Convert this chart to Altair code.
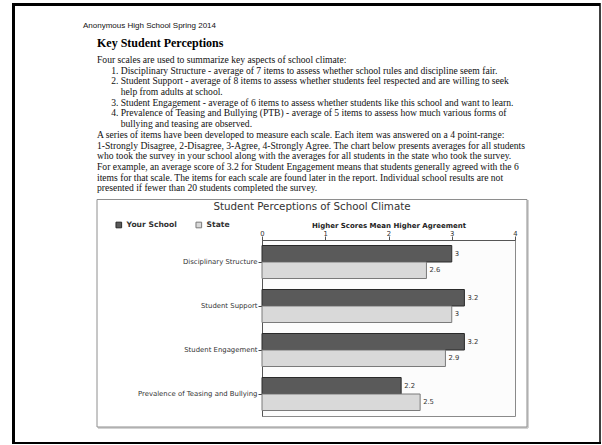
import altair as alt
import pandas as pd

# ---- survey results ----
categories = [
    "Disciplinary Structure",
    "Student Support",
    "Student Engagement",
    "Prevalence of Teasing and Bullying",
]
series = ["Your School", "State"]
your_school = [3.0, 3.2, 3.2, 2.2]
state = [2.6, 3.0, 2.9, 2.5]
x_ticks = [0, 1, 2, 3, 4]

# ---- report text ----
header = "Anonymous High School Spring 2014"
heading = "Key Student Perceptions"
intro = "Four scales are used to summarize key aspects of school climate:"
list_items = [
    ["Disciplinary Structure - average of 7 items to assess whether school rules and discipline seem fair."],
    ["Student Support - average of 8 items to assess whether students feel respected and are willing to seek",
     "help from adults at school."],
    ["Student Engagement - average of 6 items to assess whether students like this school and want to learn."],
    ["Prevalence of Teasing and Bullying (PTB) - average of 5 items to assess how much various forms of",
     "bullying and teasing are observed."],
]
paragraph = [
    "A series of items have been developed to measure each scale. Each item was answered on a 4 point-range:",
    "1-Strongly Disagree, 2-Disagree, 3-Agree, 4-Strongly Agree. The chart below presents averages for all students",
    "who took the survey in your school along with the averages for all students in the state who took the survey.",
    "For example, an average score of 3.2 for Student Engagement means that students generally agreed with the 6",
    "items for that scale. The items for each scale are found later in the report. Individual school results are not",
    "presented if fewer than 20 students completed the survey.",
]
chart_title = "Student Perceptions of School Climate"
axis_title = "Higher Scores Mean Higher Agreement"

# ---- page geometry (canvas pixels); the plot area starts at (OX, OY) ----
W, H = 602, 445
OX, OY = 262, 240
PW, PH = 253, 176

SERIF = "Liberation Serif"
SANS = "Liberation Sans"
CHART_FONT = "DejaVu Sans"

rows = []
for cat, a, b in zip(categories, your_school, state):
    rows.append({"category": cat, "series": series[0], "value": a})
    rows.append({"category": cat, "series": series[1], "value": b})
df = pd.DataFrame(rows)


def text_at(s, x, y, size, font, weight="normal", align="left", color="#111111"):
    return alt.Chart(pd.DataFrame({"t": [s]})).mark_text(
        align=align, baseline="middle", font=font, fontSize=size,
        fontWeight=weight, color=color,
    ).encode(text="t:N", x=alt.value(x - OX), y=alt.value(y - OY))


def line_at(x1, y1, x2, y2, color, width):
    return alt.Chart(pd.DataFrame({"k": [0]})).mark_rule(
        color=color, strokeWidth=width
    ).encode(x=alt.value(x1 - OX), x2=alt.value(x2 - OX),
             y=alt.value(y1 - OY), y2=alt.value(y2 - OY))


layers = []

# page frame
layers.append(line_at(13.5, 4, 13.5, 443.5, "#000000", 3))
layers.append(line_at(12, 4.5, 600, 4.5, "#000000", 3))
layers.append(line_at(600, 3, 600, 444, "#000000", 1.5))
layers.append(line_at(12, 443, 601, 443, "#000000", 2))

# chart panel box with a soft shadow
layers.append(line_at(98, 428, 528, 428, "#c4c4c4", 1.5))
layers.append(line_at(528, 200, 528, 428, "#c4c4c4", 1.5))
layers.append(
    alt.Chart(pd.DataFrame({"k": [0]})).mark_rect(
        filled=False, stroke="#8e8e8e", strokeWidth=1
    ).encode(x=alt.value(97 - OX), x2=alt.value(527 - OX),
             y=alt.value(199.5 - OY), y2=alt.value(427 - OY))
)

# document text
layers.append(text_at(header, 83, 26, 8, SANS))
layers.append(text_at(heading, 97, 43, 12, SERIF, weight="bold", color="#000000"))

Y0, LH = 60, 10.69
BODY = 9.6
line_no = 0
layers.append(text_at(intro, 97, Y0, BODY, SERIF))
line_no += 1
for n, item in enumerate(list_items, start=1):
    layers.append(text_at(f"{n}.", 118.5, Y0 + line_no * LH, BODY, SERIF, align="right"))
    for part in item:
        layers.append(text_at(part, 120.7, Y0 + line_no * LH, BODY, SERIF))
        line_no += 1
for part in paragraph:
    layers.append(text_at(part, 97, Y0 + line_no * LH, BODY, SERIF))
    line_no += 1

layers.append(text_at(chart_title, 312, 207, 10.3, CHART_FONT, align="center", color="#333333"))

# bars
base = alt.Chart(df).encode(
    y=alt.Y(
        "category:N", sort=categories, title=None,
        scale=alt.Scale(paddingInner=0.25, paddingOuter=0.125),
        axis=alt.Axis(
            labelFont=CHART_FONT, labelFontSize=6.9, labelColor="#333333",
            labelPadding=1, tickSize=4, tickColor="#444444",
            domainColor="#555555",
        ),
    ),
    yOffset=alt.YOffset("series:N", sort=series, scale=alt.Scale(paddingInner=0)),
)

bars = base.mark_bar(strokeWidth=1).encode(
    x=alt.X(
        "value:Q",
        scale=alt.Scale(domain=[0, 4], nice=False),
        axis=alt.Axis(
            orient="top", values=x_ticks, format="d", grid=False, title=axis_title,
            titleFont=CHART_FONT, titleFontSize=7, titleFontWeight="bold",
            titleColor="#222222", titlePadding=2,
            labelFont=CHART_FONT, labelFontSize=6.8, labelColor="#333333",
            labelPadding=0, labelFlush=False, tickSize=4, tickColor="#555555",
            domainColor="#555555",
        ),
    ),
    fill=alt.Fill(
        "series:N", sort=series,
        scale=alt.Scale(domain=series, range=["#5a5a5a", "#d9d9d9"]),
        legend=alt.Legend(
            title=None, orient="none", legendX=115 - OX, legendY=221 - OY,
            direction="horizontal", symbolType="square", symbolSize=32,
            symbolStrokeColor="#333333", symbolStrokeWidth=1,
            labelFont=CHART_FONT, labelFontSize=7.6, labelFontWeight="bold",
            labelColor="#333333", labelOffset=4, columnPadding=16,
        ),
    ),
    stroke=alt.Stroke(
        "series:N", sort=series,
        scale=alt.Scale(domain=series, range=["#2a2a2a", "#7a7a7a"]),
        legend=None,
    ),
)

values = base.mark_text(
    align="left", baseline="middle", dx=3, font=CHART_FONT,
    fontSize=6.8, color="#333333",
).encode(
    x="value:Q",
    text=alt.Text("value:Q", format=".1~f"),
)

layers += [bars, values]

chart = alt.layer(*layers).properties(
    width=PW, height=PH,
    padding={"left": OX, "top": OY, "right": W - OX - PW, "bottom": H - OY - PH},
    autosize=alt.AutoSizeParams(type="none"),
    background="#ffffff",
).configure_view(fill="#fcfcfc", stroke="#8a8a8a", strokeWidth=1)

chart.save("out.html", embed_options={"renderer": "svg", "actions": False})
